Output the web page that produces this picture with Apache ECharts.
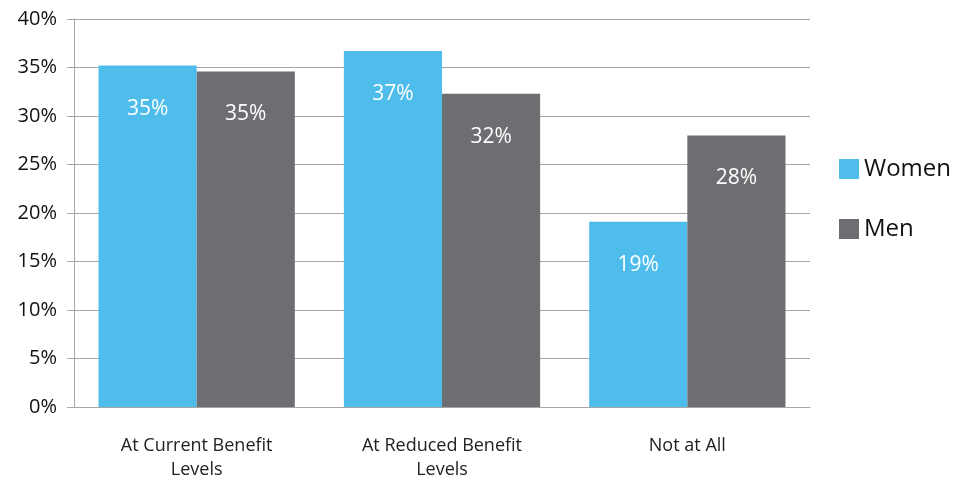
<!DOCTYPE html>
<html>
<head>
<meta charset="utf-8">
<script src="https://cdn.jsdelivr.net/npm/echarts@6/dist/echarts.min.js"></script>
<style>html,body{margin:0;padding:0;background:#fff}#c{width:960px;height:482px}</style>
</head>
<body>
<div id="c"></div>
<script>
const categories = ['At Current Benefit\nLevels', 'At Reduced Benefit\nLevels', 'Not at All'];
const women = [35.2, 36.7, 19.1];
const men = [34.6, 32.3, 28.0];
const seriesNames = ['Women', 'Men'];

const FONT = '"Open Sans", "Noto Sans", sans-serif';
const chart = echarts.init(document.getElementById('c'));
const labelCfg = {
  show: true,
  position: ['50%', 43],
  align: 'center',
  verticalAlign: 'middle',
  color: '#fff',
  fontSize: 21,
  fontFamily: FONT,
  formatter: p => Math.round(p.value) + '%'
};
chart.setOption({
  animation: false,
  textStyle: { fontFamily: FONT },
  grid: { left: 74, right: 150, top: 19, bottom: 75, containLabel: false },
  legend: {
    orient: 'vertical',
    left: 834,
    top: 152,
    itemWidth: 20,
    itemHeight: 20,
    itemGap: 36,
    icon: 'rect',
    textStyle: { fontSize: 24, color: '#111', fontFamily: FONT },
    data: seriesNames
  },
  xAxis: {
    type: 'category',
    data: categories,
    axisLine: { show: true, lineStyle: { color: '#a6a6a6', width: 1 } },
    axisTick: { show: false },
    axisLabel: { color: '#222', fontSize: 18, lineHeight: 24, margin: 27, fontFamily: FONT }
  },
  yAxis: {
    type: 'value',
    min: 0,
    max: 40,
    interval: 5,
    axisLine: { show: true, lineStyle: { color: '#a6a6a6', width: 1 } },
    axisTick: { show: true, length: 7, lineStyle: { color: '#a6a6a6' } },
    splitLine: { show: true, lineStyle: { color: '#a6a6a6', width: 1 } },
    axisLabel: { color: '#111', fontSize: 20, margin: 17, fontFamily: FONT, formatter: '{value}%' }
  },
  series: [
    { name: seriesNames[0], type: 'bar', data: women, barGap: '0%', barCategoryGap: '20%',
      itemStyle: { color: '#4fbdeb' }, label: labelCfg },
    { name: seriesNames[1], type: 'bar', data: men, barGap: '0%', barCategoryGap: '20%',
      itemStyle: { color: '#6d6e71' }, label: labelCfg }
  ]
});
</script>
</body>
</html>
